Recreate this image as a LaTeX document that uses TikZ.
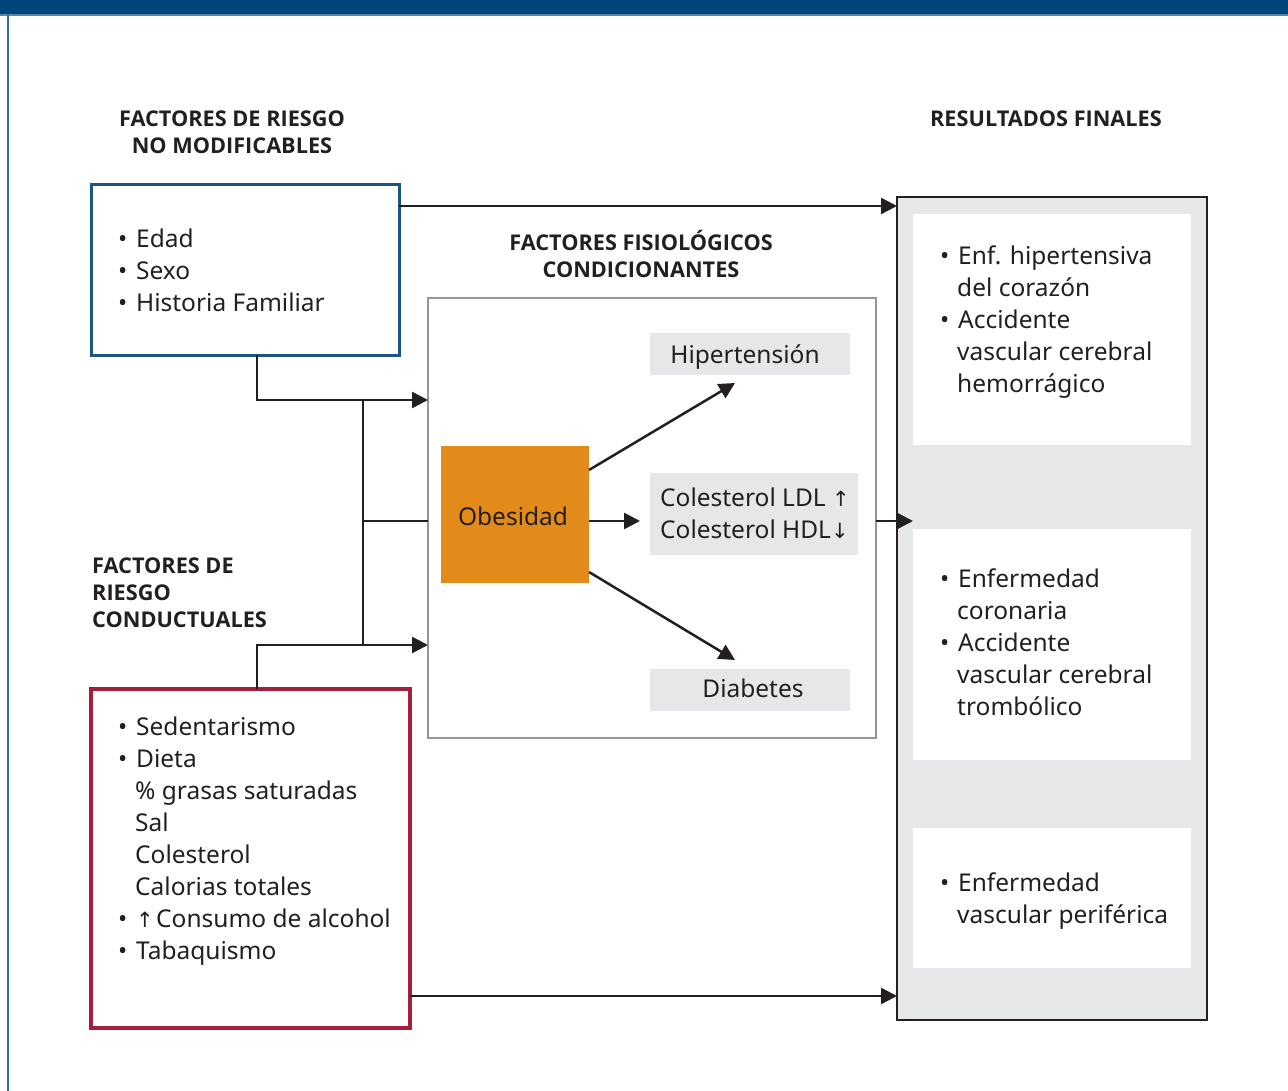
\documentclass[tikz,border=0pt]{standalone}
\usepackage{fontspec}
\setmainfont{Noto Sans}
\newfontfamily\hdrfont{Open Sans}
\newfontfamily\arrowfont{DejaVu Sans}
\usetikzlibrary{arrows.meta}
\definecolor{band}{RGB}{0,70,122}
\definecolor{bandline}{RGB}{90,133,170}
\definecolor{leftline}{RGB}{60,105,150}
\definecolor{bluebox}{RGB}{28,84,132}
\definecolor{redbox}{RGB}{163,31,58}
\definecolor{orangebox}{RGB}{227,139,26}
\definecolor{lightgray}{RGB}{230,231,232}
\definecolor{framegray}{RGB}{150,150,152}
\definecolor{ink}{RGB}{35,31,32}
\newcommand\bul{\makebox[19pt][l]{\hspace{1pt}•}}
\newcommand\ind{\hspace{18pt}}
\newcommand\upar{{\arrowfont\fontsize{21}{32}\selectfont ↑}}
\newcommand\dnar{{\arrowfont\fontsize{21}{32}\selectfont ↓}}
\newcommand\topstrut{\rule{0pt}{24pt}}
\newcommand\hstrut{\rule{0pt}{20pt}}
\begin{document}
\begin{tikzpicture}[x=1pt,y=-1pt,
  boxbase/.style={anchor=north west, inner sep=0pt, outer sep=0pt},
  txt/.style={anchor=north west, inner sep=0pt, align=left, text=ink, font=\fontsize{24.5}{32}\selectfont},
  hdr/.style={inner sep=0pt, text=ink, font=\hdrfont\bfseries\fontsize{21.7}{27}\selectfont},
  conn/.style={draw=ink, line width=2.5pt},
  arr/.style={conn, -{Triangle[length=16pt,width=16pt]}},
]
\useasboundingbox (0,0) rectangle (1288,1091);
% top band and left border
\fill[band] (0,0) rectangle (1288,14);
\fill[bandline] (0,14) rectangle (1288,16.5);
\draw[leftline, line width=2pt] (7.5,15) -- (7.5,1091);

% headers
\node[hdr, align=center, anchor=north] (h1) at (232,106) {\hstrut FACTORES DE RIESGO\\NO MODIFICABLES};
\node[hdr, align=center, anchor=north] (h2) at (1046,106) {\hstrut RESULTADOS FINALES};
\node[hdr, align=center, anchor=north] (h3) at (641,230) {\hstrut FACTORES FISIOLÓGICOS\\CONDICIONANTES};
\node[hdr, align=left, anchor=north west] (h4) at (92,553) {\hstrut FACTORES DE\\RIESGO\\CONDUCTUALES};

% left boxes
\node[boxbase, draw=bluebox, line width=3pt, minimum width=308pt, minimum height=170pt] (mod) at (91,185) {};
\node[txt] (modt) at (117,223.5) {\topstrut\bul Edad\\\bul Sexo\\\bul Historia Familiar};
\node[boxbase, draw=redbox, line width=3.5pt, minimum width=319pt, minimum height=339pt] (cond) at (91,689) {};
\node[txt] (condt) at (117,711.5) {\topstrut\bul Sedentarismo\\\bul Dieta\\\ind\% grasas saturadas\\\ind Sal\\\ind Colesterol\\\ind Calorias totales\\\bul\makebox[20pt][l]{\upar}Consumo de alcohol\\\bul Tabaquismo};

% physiological frame
\node[boxbase, draw=framegray, line width=2pt, minimum width=448pt, minimum height=440pt] (fis) at (428,298) {};
\node[boxbase, fill=orangebox, minimum width=148pt, minimum height=137pt] (obe) at (441,446) {};
\node[text=ink, font=\fontsize{24.5}{32}\selectfont, anchor=base, inner sep=0pt] (obet) at (513,525.5) {Obesidad};
\node[boxbase, fill=lightgray, minimum width=200pt, minimum height=42pt] (hip) at (650,333) {};
\node[text=ink, font=\fontsize{24.5}{32}\selectfont, anchor=base, inner sep=0pt] (hipt) at (745,363.5) {Hipertensión};
\node[boxbase, fill=lightgray, minimum width=208pt, minimum height=82pt] (col) at (650,473) {};
\node[txt] (colt) at (660,482.5) {\topstrut Colesterol LDL \upar\\Colesterol HDL\dnar};
\node[boxbase, fill=lightgray, minimum width=200pt, minimum height=42pt] (dia) at (650,669) {};
\node[text=ink, font=\fontsize{24.5}{32}\selectfont, anchor=base, inner sep=0pt] (diat) at (753,697.5) {Diabetes};

% results
\node[boxbase, draw=ink, fill=lightgray, line width=2.5pt, minimum width=310pt, minimum height=823pt] (res) at (897,197) {};
\node[boxbase, fill=white, minimum width=278pt, minimum height=231pt] (r1) at (913,214) {};
\node[boxbase, fill=white, minimum width=278pt, minimum height=231pt] (r2) at (913,529) {};
\node[boxbase, fill=white, minimum width=278pt, minimum height=140pt] (r3) at (913,828) {};
\node[txt] (r1t) at (939,240.5) {\topstrut\bul Enf. hipertensiva\\\ind del corazón\\\bul Accidente\\\ind vascular cerebral\\\ind hemorrágico};
\node[txt] (r2t) at (939,563.5) {\topstrut\bul Enfermedad\\\ind coronaria\\\bul Accidente\\\ind vascular cerebral\\\ind trombólico};
\node[txt] (r3t) at (939,867.5) {\topstrut\bul Enfermedad\\\ind vascular periférica};

% routing coordinates
\coordinate (busTop) at (363,400);
\coordinate (busMid) at (363,521);
\coordinate (busBot) at (363,645);

% connectors
\draw[arr] (mod.east |- 0,206) -- (res.west |- 0,206);
\draw[arr] (cond.east |- 0,996) -- (res.west |- 0,996);
\draw[arr] ([xshift=12pt]mod.south) |- (fis.west |- busTop);
\draw[arr] ([xshift=6.5pt]cond.north) |- (fis.west |- busBot);
\draw[conn] (busTop) -- (busBot);
\draw[conn] (busMid) -- (fis.west |- busMid);
\draw[arr] (fis.east |- 0,521) -- (r2.west |- 0,521);
\draw[arr] (obe.east |- 0,470) -- (735,383);
\draw[arr] (obe.east |- 0,521) -- (640,521);
\draw[arr] (obe.east |- 0,572) -- (735,660);
\end{tikzpicture}
\end{document}
